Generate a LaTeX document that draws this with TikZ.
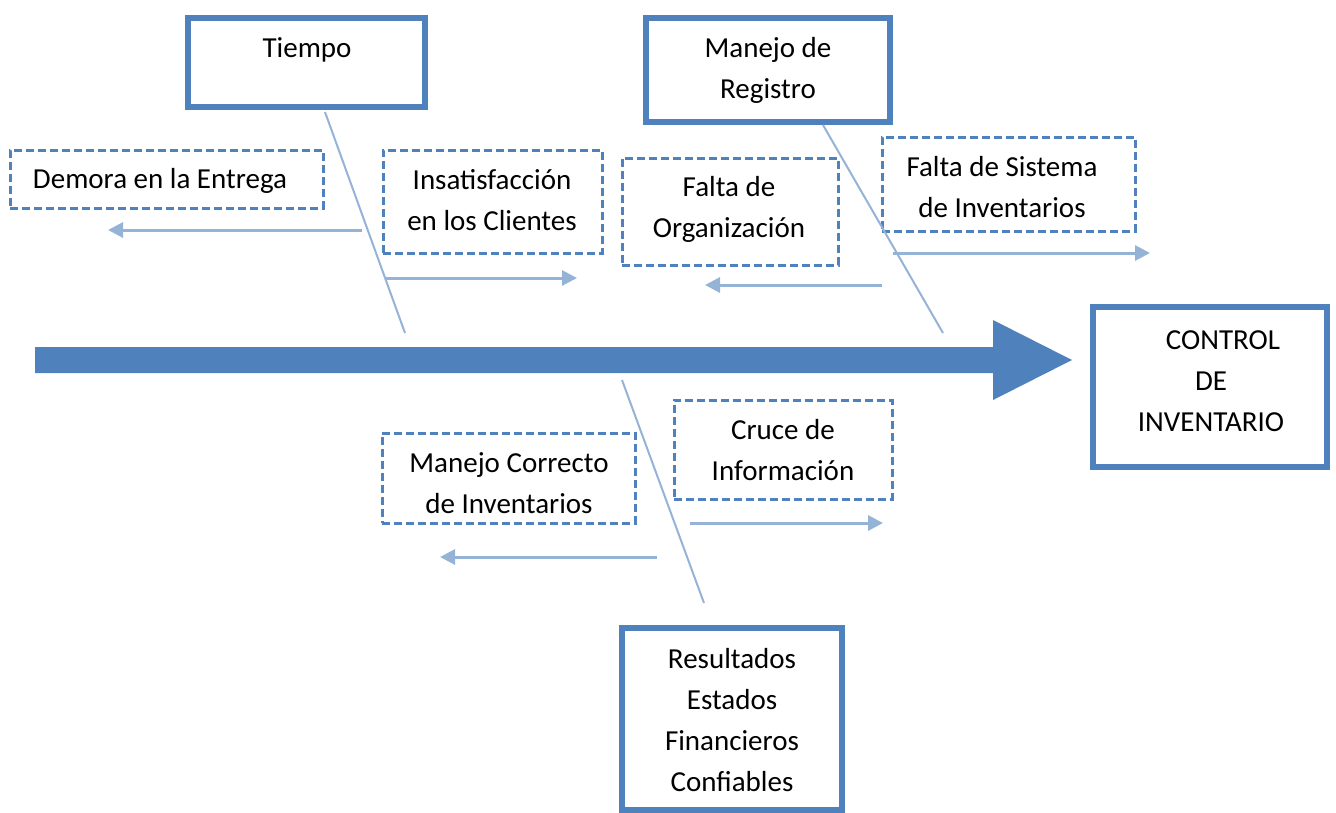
\documentclass[tikz,border=0pt]{standalone}
\usepackage{fontspec}
\setmainfont{Carlito}
\usetikzlibrary{arrows.meta}
\definecolor{mainblue}{HTML}{4F81BD}
\definecolor{lightblue}{HTML}{95B3D7}
\begin{document}
\begin{tikzpicture}[x=1pt,y=-1pt,
  txt/.style={font=\fontsize{29}{41}\selectfont, align=center, inner sep=0pt, text=black},
  mainbox/.style={draw=mainblue, line width=6pt, inner sep=0pt},
  dashbox/.style={draw=mainblue, line width=3pt, dash pattern=on 8pt off 4pt, inner sep=0pt},
  bone/.style={draw=lightblue, line width=2pt},
  subarrow/.style={draw=lightblue, line width=3pt, -{Triangle[length=15pt,width=15pt]}}]
\useasboundingbox (0,0) rectangle (1336,812);

% main spine
\fill[mainblue] (35,347) -- (993,347) -- (993,320) -- (1072,360) -- (993,400) -- (993,373) -- (35,373) -- cycle;

% solid boxes
\node[mainbox, minimum width=237pt, minimum height=89pt] (tiempo) at (306.5,62.5) {};
\node[mainbox, minimum width=244pt, minimum height=104pt] (registro) at (768,70) {};
\node[mainbox, minimum width=234pt, minimum height=160pt] (control) at (1210,387) {};
\node[mainbox, minimum width=220pt, minimum height=182pt] (resultados) at (732,719) {};

\node[txt] (tiempoT) at (307,50) {Tiempo};
\node[txt] (registroT) at (768,70) {Manejo de\\Registro};
\node[txt] (controlT) at (1211,381) {\hspace*{24pt}CONTROL\\DE\\INVENTARIO};
\node[txt] (resultadosT) at (732,720) {Resultados\\Estados\\Financieros\\Confiables};

% dashed boxes
\node[dashbox, minimum width=313pt, minimum height=58pt] (demora) at (166.5,179) {};
\node[dashbox, minimum width=219pt, minimum height=103pt] (insat) at (492.5,201.5) {};
\node[dashbox, minimum width=216pt, minimum height=107pt] (falorg) at (730,211.5) {};
\node[dashbox, minimum width=253pt, minimum height=94pt] (falsis) at (1008.5,184) {};
\node[dashbox, minimum width=218pt, minimum height=99pt] (cruce) at (783,449.5) {};
\node[dashbox, minimum width=253pt, minimum height=90pt] (mancor) at (508.5,478) {};

\node[txt] (demoraT) at (160,181) {Demora en la Entrega};
\node[txt] (insatT) at (492,200.5) {Insatisfacción\\en los Clientes};
\node[txt] (falorgT) at (729,209.5) {Falta de\\Organización};
\node[txt] (falsisT) at (1002,187.5) {Falta de Sistema\\de Inventarios};
\node[txt] (cruceT) at (783,450.5) {Cruce de\\Información};
\node[txt] (mancorT) at (509,483.5) {Manejo Correcto\\de Inventarios};

% bones
\coordinate (b1s) at (325,112);  \coordinate (b1e) at (405,333);
\coordinate (b2s) at (823,125);  \coordinate (b2e) at (943,333);
\coordinate (b3s) at (622,380);  \coordinate (b3e) at (704,603);
\draw[bone] (b1s) -- (b1e);
\draw[bone] (b2s) -- (b2e);
\draw[bone] (b3s) -- (b3e);

% sub arrows
\coordinate (a1s) at (362,230); \coordinate (a1e) at (108,230);
\coordinate (a2s) at (385,278); \coordinate (a2e) at (577,278);
\coordinate (a3s) at (882,285); \coordinate (a3e) at (705,285);
\coordinate (a4s) at (893,253); \coordinate (a4e) at (1150,253);
\coordinate (a5s) at (690,523); \coordinate (a5e) at (883,523);
\coordinate (a6s) at (657,557); \coordinate (a6e) at (440,557);
\draw[subarrow] (a1s) -- (a1e);
\draw[subarrow] (a2s) -- (a2e);
\draw[subarrow] (a3s) -- (a3e);
\draw[subarrow] (a4s) -- (a4e);
\draw[subarrow] (a5s) -- (a5e);
\draw[subarrow] (a6s) -- (a6e);
\end{tikzpicture}
\end{document}
